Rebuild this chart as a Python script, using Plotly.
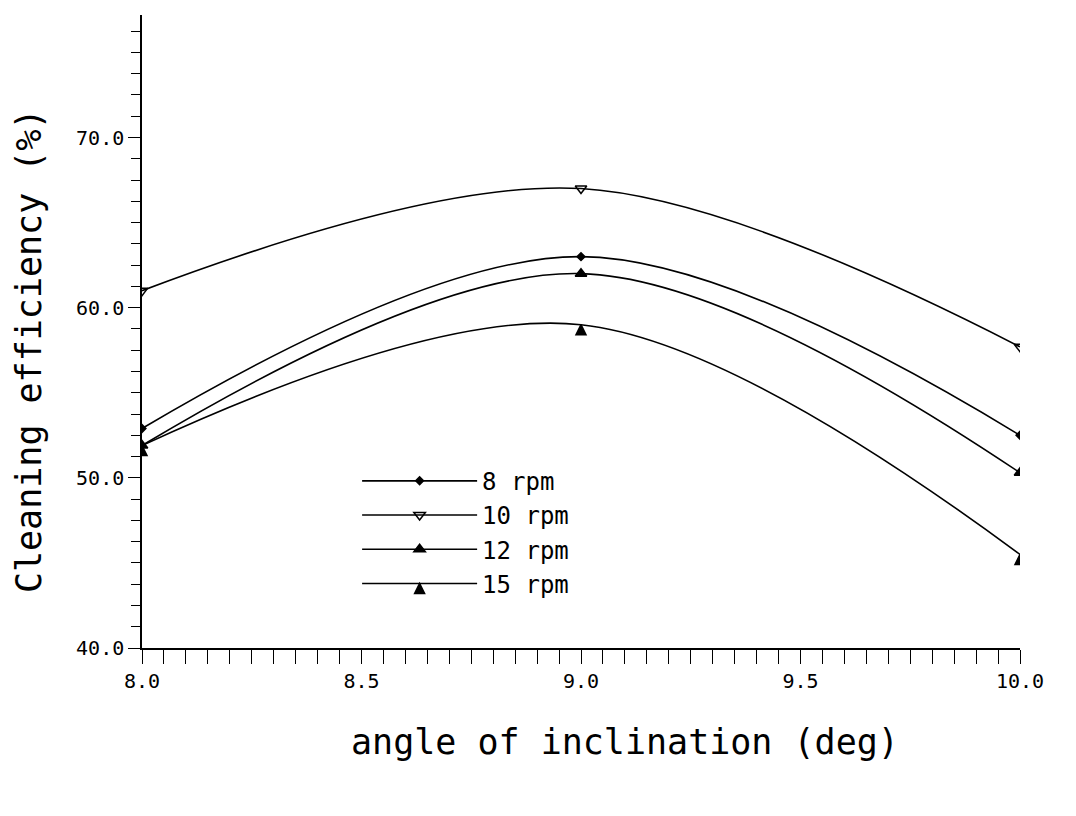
import plotly.graph_objects as go

angle = [8.0, 9.0, 10.0]
eff_8rpm = [52.9, 63.0, 52.5]
eff_10rpm = [61.0, 67.0, 57.7]
eff_12rpm = [51.9, 62.0, 50.3]
eff_15rpm = [51.9, 59.0, 45.5]
series_names = ["8 rpm", "10 rpm", "12 rpm", "15 rpm"]
x_ticks = [8.0, 8.5, 9.0, 9.5, 10.0]
y_ticks = [40.0, 50.0, 60.0, 70.0]

FONT = "DejaVu Sans Mono"
symbols = ["diamond", "triangle-down-open", "triangle-up", "arrow-up"]
sizes = [6, 10, 10, 10]

fig = go.Figure()
for name, vals, sym, sz in zip(series_names, [eff_8rpm, eff_10rpm, eff_12rpm, eff_15rpm], symbols, sizes):
    fig.add_trace(go.Scatter(
        x=angle, y=vals, name=name, mode="lines+markers",
        line=dict(color="black", width=1.6, shape="spline", smoothing=1.0),
        marker=dict(symbol=sym, size=sz, color="black", line=dict(color="black", width=1.5)),
    ))

fig.update_layout(
    width=1076, height=816,
    margin=dict(l=142, r=56, t=15, b=168),
    paper_bgcolor="white", plot_bgcolor="white",
    font=dict(family=FONT, color="black"),
    showlegend=True,
    legend=dict(x=0.245, y=0.299, xanchor="left", yanchor="top",
                font=dict(family=FONT, size=24, color="black"),
                itemwidth=115, bgcolor="rgba(0,0,0,0)", tracegroupgap=0),
    xaxis=dict(range=[8.0, 10.0], tickvals=x_ticks, tickformat=".1f",
               showgrid=False, zeroline=False, showline=True, linecolor="black", linewidth=1.5,
               ticks="outside", ticklen=14, tickwidth=1.2, tickcolor="black",
               tickfont=dict(family=FONT, size=20),
               minor=dict(dtick=0.05, ticks="outside", ticklen=14, tickwidth=1.2, tickcolor="black")),
    yaxis=dict(range=[40.0, 77.2], tickvals=y_ticks, tickformat=".1f",
               showgrid=False, zeroline=False, showline=True, linecolor="black", linewidth=1.5,
               ticks="outside", ticklen=12, tickwidth=1.2, tickcolor="black",
               tickfont=dict(family=FONT, size=20),
               minor=dict(dtick=1.25, ticks="outside", ticklen=9, tickwidth=1.2, tickcolor="black")),
    annotations=[
        dict(text="angle of inclination (deg)", xref="paper", yref="paper",
             x=0.55, y=-0.148, xanchor="center", yanchor="middle", showarrow=False,
             font=dict(family=FONT, size=35, color="black")),
        dict(text="Cleaning efficiency (%)", xref="paper", yref="paper",
             x=-0.128, y=0.47, xanchor="center", yanchor="middle", showarrow=False,
             textangle=-90, font=dict(family=FONT, size=35, color="black")),
    ],
)

fig.write_html("out.html")
